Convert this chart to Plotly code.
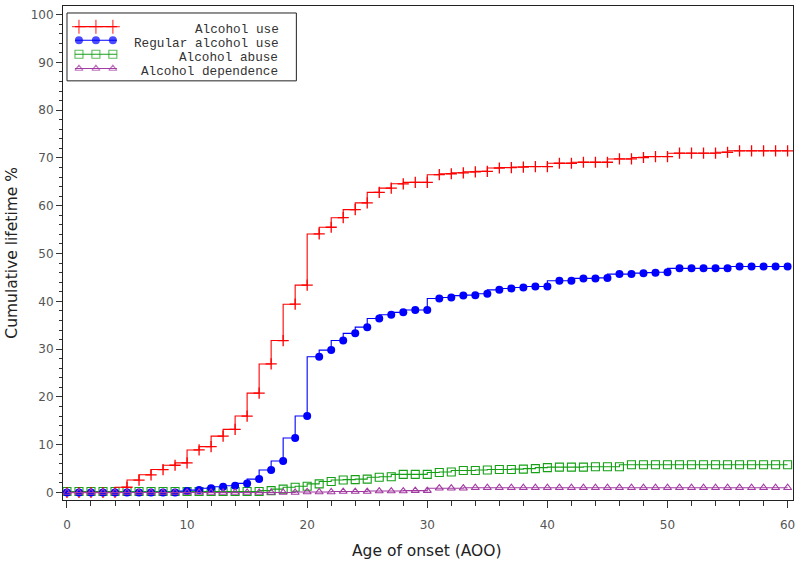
import plotly.graph_objects as go

# ---------------- data ----------------
ages = list(range(0, 61))

alcohol_use = [0, 0, 0, 0, 0,
               1.1, 2.6, 3.7, 4.8, 5.7, 6.2, 8.9, 9.6, 11.8, 13.2, 16.0,
               20.8, 26.9, 31.8, 39.4, 43.4, 54.1, 55.5, 57.5, 59.2, 60.6,
               62.8, 63.7, 64.6, 64.9, 64.9, 66.5, 66.7, 66.9, 67.1, 67.2,
               67.9, 68.0, 68.1, 68.2, 68.2, 68.9, 68.9, 69.1, 69.1, 69.1,
               69.8, 69.8, 70.1, 70.3, 70.3, 71.0, 71.0, 71.0, 71.0, 71.2,
               71.5, 71.5, 71.5, 71.5, 71.5]

regular_use = [0, 0, 0, 0, 0, 0, 0, 0, 0, 0,
               0.3, 0.5, 0.9, 1.2, 1.4, 1.9, 2.8, 4.7, 6.6, 11.4, 16.0,
               28.4, 29.8, 31.8, 33.3, 34.6, 36.4, 37.2, 37.7, 38.2, 38.2,
               40.6, 40.8, 41.2, 41.3, 41.6, 42.4, 42.7, 42.9, 43.1, 43.1,
               44.3, 44.3, 44.8, 44.8, 44.9, 45.7, 45.7, 45.9, 46.0, 46.1,
               46.9, 46.9, 46.9, 46.9, 46.9, 47.3, 47.3, 47.3, 47.3, 47.3]

abuse = [0.2] * 17 + [0.4, 0.7, 1.1, 1.3, 1.8, 2.3, 2.6, 2.7, 2.8, 3.2,
                      3.3, 3.8, 3.8, 3.8, 4.2, 4.3, 4.6, 4.6, 4.7, 4.8,
                      4.8, 4.9, 5.0, 5.2, 5.3, 5.3, 5.3, 5.4, 5.4, 5.4] + [5.8] * 14

dependence = [0] * 20 + [0.1] * 3 + [0.2] * 3 + [0.3] * 3 + [0.4] * 2 + [0.9] * 3 + [1.0] * 27

series_names = ["Alcohol use", "Regular alcohol use", "Alcohol abuse", "Alcohol dependence"]
x_ticks = [0, 10, 20, 30, 40, 50, 60]
y_ticks = [0, 10, 20, 30, 40, 50, 60, 70, 80, 90, 100]
x_title = "Age of onset (AOO)"
y_title = "Cumulative lifetime %"

# ---------------- styles ----------------
RED, BLUE, GREEN, PURPLE = "#FF0000", "#0000FF", "#16A016", "#A23BA2"
styles = {
    "Alcohol use": dict(color=RED, symbol="cross-thin-open", size=8, mlw=1.3, lsize=10),
    "Regular alcohol use": dict(color=BLUE, symbol="circle", size=8, mlw=0, lsize=8),
    "Alcohol abuse": dict(color=GREEN, symbol="square-open", size=8, mlw=1.1, lsize=8),
    "Alcohol dependence": dict(color=PURPLE, symbol="triangle-up-open", size=7, mlw=1.1, lsize=7),
}
values = {
    "Alcohol use": alcohol_use,
    "Regular alcohol use": regular_use,
    "Alcohol abuse": abuse,
    "Alcohol dependence": dependence,
}

fig = go.Figure()
for name in ["Alcohol abuse", "Alcohol use", "Regular alcohol use", "Alcohol dependence"]:
    s = styles[name]
    fig.add_trace(go.Scatter(
        x=ages, y=values[name], name=name, mode="lines+markers",
        line=dict(color=s["color"], width=1.1, shape="vh"),
        marker=dict(symbol=s["symbol"], size=s["size"], color=s["color"],
                    line=dict(color=s["color"], width=s["mlw"])),
        showlegend=False, xaxis="x", yaxis="y",
    ))

# ---------------- custom legend (pixel overlay axis) ----------------
L, R, T, B = 63, 795, 5, 500
W, H = 800, 564
legend_rows_y = [25.7, 39.3, 53.3, 67.7]
legend_sample_x = [75, 79, 96, 113, 117]
for name, ry in zip(series_names, legend_rows_y):
    s = styles[name]
    ls = s["lsize"]
    fig.add_trace(go.Scatter(
        x=legend_sample_x, y=[ry] * len(legend_sample_x), mode="lines+markers",
        line=dict(color=s["color"], width=1.1),
        marker=dict(symbol=s["symbol"], size=[0, ls, ls, ls, 0],
                    color=s["color"], line=dict(color=s["color"], width=s["mlw"])),
        showlegend=False, xaxis="x2", yaxis="y2", hoverinfo="skip",
    ))
    fig.add_annotation(
        x=288.5, y=ry + 3.3, xref="x2", yref="y2", text=name + "\u00a0",
        showarrow=False, xanchor="right", yanchor="middle",
        font=dict(family="Liberation Mono", size=12.7, color="#333333"),
    )
fig.add_shape(type="rect", xref="x2", yref="y2", x0=67, x1=297, y0=12, y1=80,
              line=dict(color="#222222", width=1), fillcolor="rgba(0,0,0,0)")

# ---------------- axis titles (paper coords) ----------------
def px_to_paper_x(px):
    return (px - L) / (R - L)

def py_to_paper_y(py):
    return (B - py) / (B - T)

fig.add_annotation(x=px_to_paper_x(428), y=py_to_paper_y(551), xref="paper", yref="paper",
                   text=x_title, showarrow=False, xanchor="center", yanchor="middle",
                   font=dict(family="DejaVu Sans", size=15.5, color="#222222"))
fig.add_annotation(x=px_to_paper_x(11), y=py_to_paper_y(252), xref="paper", yref="paper",
                   text=y_title, showarrow=False, xanchor="center", yanchor="middle",
                   textangle=-90,
                   font=dict(family="DejaVu Sans", size=15.5, color="#222222"))

tickfont = dict(family="DejaVu Sans", size=12, color="#555555")
fig.update_layout(
    width=W, height=H,
    margin=dict(l=L, r=W - R, t=T, b=H - B, pad=0),
    paper_bgcolor="white", plot_bgcolor="white",
    xaxis=dict(range=[-0.33, 60.45], tickvals=x_ticks, ticks="outside", ticklen=7,
               tickcolor="#333333", showline=True, linecolor="#222222", linewidth=1,
               mirror=True, showgrid=False, zeroline=False, tickfont=tickfont,
               ticklabelstandoff=7,
               minor=dict(dtick=2, tick0=0, ticks="outside", ticklen=5, tickcolor="#333333")),
    yaxis=dict(range=[-1.57, 101.8], tickvals=y_ticks, ticks="outside", ticklen=6,
               tickcolor="#333333", showline=True, linecolor="#222222", linewidth=1,
               mirror=True, showgrid=False, zeroline=False, tickfont=tickfont,
               ticklabelstandoff=0,
               minor=dict(dtick=2, tick0=0, ticks="outside", ticklen=3, tickcolor="#333333")),
    xaxis2=dict(range=[L, R], overlaying="x", visible=False, fixedrange=True),
    yaxis2=dict(range=[B, T], overlaying="y", visible=False, fixedrange=True),
    showlegend=False,
)

fig.write_html("out.html", config={"displayModeBar": False},
               post_script="document.body.style.margin='0';document.body.style.padding='0';")
